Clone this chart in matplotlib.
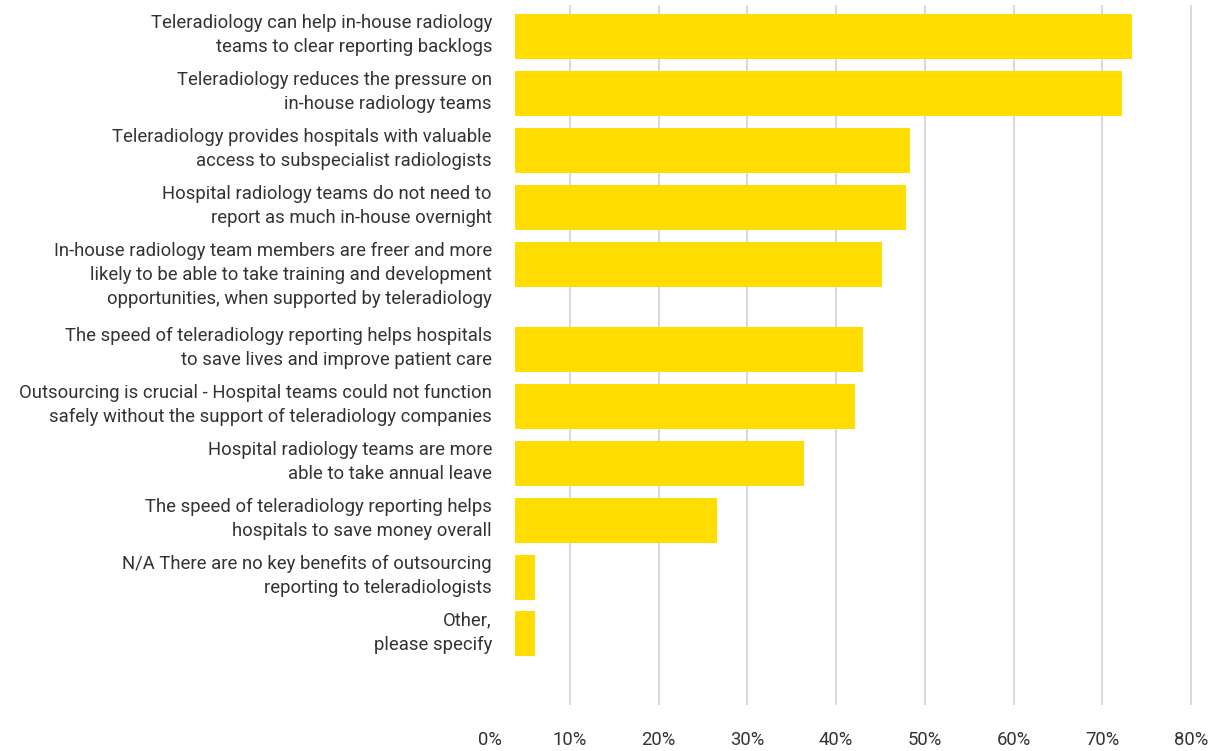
import matplotlib
matplotlib.use("Agg")
import matplotlib.pyplot as plt
import matplotlib.transforms as mtransforms
import numpy as np

categories = [
    "Teleradiology can help in-house radiology\nteams to clear reporting backlogs",
    "Teleradiology reduces the pressure on\nin-house radiology teams",
    "Teleradiology provides hospitals with valuable\naccess to subspecialist radiologists",
    "Hospital radiology teams do not need to\nreport as much in-house overnight",
    "In-house radiology team members are freer and more\nlikely to be able to take training and development\nopportunities, when supported by teleradiology",
    "The speed of teleradiology reporting helps hospitals\nto save lives and improve patient care",
    "Outsourcing is crucial - Hospital teams could not function\nsafely without the support of teleradiology companies",
    "Hospital radiology teams are more\nable to take annual leave",
    "The speed of teleradiology reporting helps\nhospitals to save money overall",
    "N/A There are no key benefits of outsourcing\nreporting to teleradiologists",
    "Other,\nplease specify",
]
values = [73.3, 72.2, 48.3, 47.9, 45.2, 43.0, 42.1, 36.4, 26.6, 6.1, 6.1]
x_ticks = [10, 20, 30, 40, 50, 60, 70, 80]
x_ticklabels = ["10%", "20%", "30%", "40%", "50%", "60%", "70%", "80%"]
zero_label = "0%"

BAR = "#FFDD00"
GRID = "#d9d9d9"
TXT = "#333333"
FONT = ["Roboto", "DejaVu Sans"]
FS = 13.3

plt.rcParams["font.family"] = FONT

W, H = 1215, 751
fig = plt.figure(figsize=(W / 100, H / 100), dpi=100)

# axes placement in pixels
ax_left, ax_right, ax_top, ax_bottom = 515, 1200, 5, 705
ax = fig.add_axes([ax_left / W, (H - ax_bottom) / H,
                   (ax_right - ax_left) / W, (ax_bottom - ax_top) / H])

# data scale: 0% at px 481, 10% per 88.76 px
px_per_unit = 8.876
zero_px = 481
xmin = (ax_left - zero_px) / px_per_unit
xmax = (ax_right - zero_px) / px_per_unit

# row layout: each row's height proportional to its number of text lines
line_px = 28.45
n_lines = [c.count("\n") + 1 for c in categories]
row_tops = np.concatenate([[0], np.cumsum(n_lines)[:-1]]).astype(float)
bar_h = 45 / line_px
ytop = -9 / line_px
ybot = ytop + (ax_bottom - ax_top) / line_px

ax.barh(row_tops, values, height=bar_h, align="edge", color=BAR, zorder=2)
ax.set_xlim(xmin, xmax)
ax.set_ylim(ybot, ytop)

tick_pad_pt = 19
ax.set_xticks(x_ticks)
ax.set_xticklabels(x_ticklabels)
ax.xaxis.grid(True, color=GRID, linewidth=1.5, zorder=0)
ax.tick_params(axis="x", length=0, pad=tick_pad_pt, labelsize=FS, labelcolor=TXT)
ax.set_yticks([])
for s in ax.spines.values():
    s.set_visible(False)
ax.set_axisbelow(True)

# category labels, right aligned, top aligned to bars
trans = mtransforms.blended_transform_factory(ax.transAxes, ax.transData)
lab_x = (492 - ax_left) / (ax_right - ax_left)
for yt, cat in zip(row_tops, categories):
    ax.text(lab_x, yt + 0.01, cat, transform=trans, ha="right", va="top",
            multialignment="right", fontsize=FS, color=TXT, linespacing=1.43)

# 0% label (outside visible x-range), same baseline as tick labels
lbl_trans = mtransforms.blended_transform_factory(ax.transData, ax.transAxes) + \
    mtransforms.ScaledTranslation(9 / 100, -tick_pad_pt / 72, fig.dpi_scale_trans)
ax.text(0, 0, zero_label, transform=lbl_trans,
        ha="center", va="top", fontsize=FS, color=TXT, clip_on=False)

fig.savefig("out.png", dpi=100)
